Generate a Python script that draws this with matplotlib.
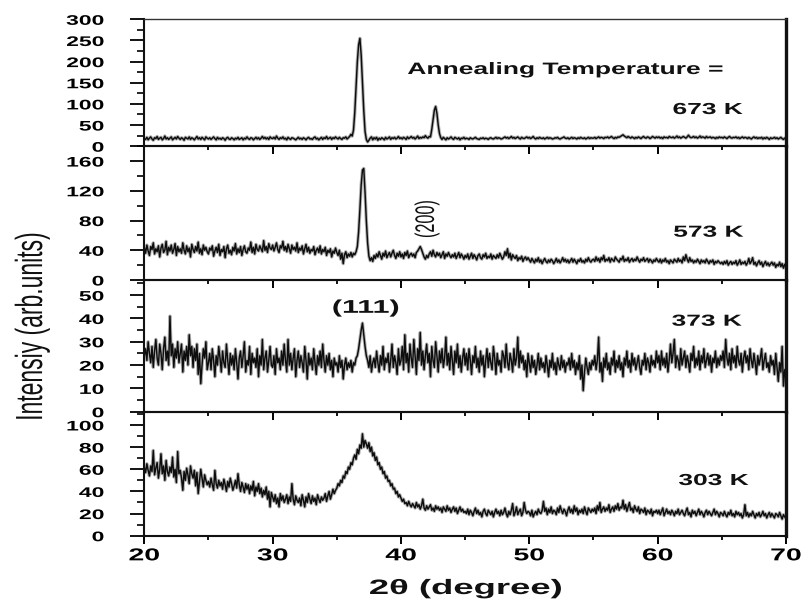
import numpy as np
import matplotlib
matplotlib.use("Agg")
import matplotlib.pyplot as plt
from matplotlib.patheffects import AbstractPathEffect
from matplotlib.transforms import Affine2D

# ---------------------------------------------------------------------------
# XRD patterns of films annealed at different temperatures
# 2-theta sampled from 20 to 70 degrees in 0.1 degree steps (501 points)
# ---------------------------------------------------------------------------
two_theta_start = 20.0
two_theta_stop = 70.0

intensity_673K = [
    18,16,21,15,19,22,17,14,20,18, 23,16,19,21,15,18,24,17,20,16, 19,22,15,18,21,17,23,19,16,20, 18,14,21,19,17,22,16,20,18,15, 19,23,17,20,16,21,18,15,22,19,
    17,20,16,19,22,18,15,21,17,19, 16,20,18,14,19,21,17,16,20,18, 15,19,17,21,16,18,20,15,19,17, 22,18,16,20,19,15,18,21,17,20, 16,19,23,18,21,17,20,16,22,19,
    18,21,17,24,19,16,20,18,22,17, 19,15,21,18,16,20,19,17,15,18, 21,17,19,16,20,18,15,19,21,17, 18,16,20,22,17,19,15,18,21,16, 20,18,23,17,19,21,16,20,18,22,
    19,17,21,18,16,20,19,22,17,20, 23,28,24,38,80,140,200,240,255,215, 150,85,35,16,10,14,19,22,15,20, 17,21,14,19,16,20,18,15,21,17, 19,22,16,20,18,21,17,19,23,18,
    20,17,21,19,16,22,18,20,23,19, 21,17,20,24,18,21,19,22,20,25, 21,19,23,22,40,62,85,94,78,50, 30,20,16,21,18,15,20,17,19,22, 18,16,21,19,17,20,15,19,18,21,
    17,19,18,16,20,18,17,19,21,18, 17,16,19,18,20,17,19,18,16,19, 20,18,17,19,21,18,20,19,17,18, 20,22,19,21,18,20,23,19,21,18, 20,22,19,17,21,19,18,20,22,19,
    21,18,20,23,19,17,20,18,21,19, 18,20,17,19,21,18,20,19,17,18, 20,19,21,18,17,19,20,22,19,18, 20,17,19,21,18,20,19,17,20,18, 21,19,18,20,17,19,21,18,20,19,
    19,21,18,20,22,19,21,20,18,21, 20,22,19,21,23,20,18,21,19,22, 21,23,25,27,24,22,20,23,21,19, 22,20,18,21,19,22,20,18,21,23, 20,19,22,21,18,20,23,21,19,22,
    20,22,19,21,18,22,20,21,19,23, 21,20,22,19,21,24,20,22,19,21, 23,21,19,22,26,22,20,21,23,20, 22,19,21,24,20,22,21,19,23,20, 21,22,19,21,20,18,21,19,22,20,
    21,19,22,20,18,21,23,20,19,21, 20,22,19,21,18,20,22,19,21,20, 18,21,19,17,20,22,19,21,18,20, 19,21,17,20,18,21,19,16,20,18, 19,21,18,20,17,19,21,18,16,19,
    18,
]

intensity_573K = [
    44,36,47,39,33,45,41,50,35,42, 38,46,31,43,48,37,40,52,34,44, 39,47,36,41,49,33,45,38,42,36, 50,40,35,46,38,43,31,48,41,37, 45,39,51,36,42,34,47,40,44,38,
    35,43,40,46,32,39,44,37,48,33, 41,38,45,30,42,47,36,40,34,44, 39,49,35,42,37,45,33,41,46,38, 36,43,40,51,37,44,35,48,41,39, 46,42,38,53,40,45,37,49,43,41,
    47,39,44,50,41,37,46,43,52,40, 45,38,48,42,36,47,41,44,39,50, 37,43,40,46,35,42,48,38,44,36, 41,39,45,34,40,43,37,46,35,41, 38,44,33,40,37,42,31,39,36,43,
    37,33,40,28,36,22,34,38,30,35, 32,37,31,36,34,38,45,65,95,128, 148,150,118,80,50,32,26,30,25,33, 29,35,31,38,33,28,36,32,39,30, 34,37,31,36,40,33,29,36,32,38,
    31,35,29,37,33,39,30,34,36,32, 35,30,37,39,42,45,41,36,31,28, 33,30,35,38,32,40,34,31,37,33, 36,30,34,38,29,35,32,37,33,30, 34,31,36,29,33,37,30,35,32,28,
    33,30,35,28,32,36,29,34,31,27, 33,35,30,28,34,31,36,29,32,30, 35,28,33,31,29,34,30,36,32,28, 31,38,33,42,30,36,27,34,31,29, 33,26,30,28,32,25,29,31,27,30,
    27,24,29,26,23,28,25,30,24,27, 22,26,29,25,23,27,24,28,26,22, 25,29,24,27,23,26,30,25,28,24, 27,23,26,29,24,28,25,22,27,25, 29,24,26,23,28,25,30,26,24,27,
    28,25,31,26,29,24,30,27,33,25, 28,26,30,24,29,27,25,31,28,26, 24,29,27,32,25,28,26,30,24,27, 29,25,28,26,31,27,24,28,26,30, 25,27,29,24,28,26,23,27,25,29,
    26,24,28,23,27,25,29,24,26,22, 27,25,23,28,26,24,29,25,27,23, 31,26,34,28,24,30,25,27,23,26, 24,28,25,22,27,24,26,23,28,25, 22,26,24,27,21,25,23,26,24,22,
    24,21,25,22,26,20,23,25,21,24, 22,26,20,23,27,21,24,22,25,20, 23,29,22,25,30,21,24,19,23,26, 21,24,18,22,25,20,23,19,22,24, 20,23,17,21,19,24,18,22,16,21,
    19,
]

intensity_373K = [
    24,27,22,30,25,21,28,19,26,31, 23,20,29,25,18,27,32,22,26,20, 41,24,29,19,27,23,30,21,25,29, 17,26,22,28,20,33,24,28,19,27, 22,29,16,25,12,20,27,23,30,18,
    21,25,18,27,22,15,24,20,28,23, 17,26,21,19,29,22,16,25,20,24, 18,27,21,14,23,26,19,24,30,17, 22,20,28,16,25,21,23,19,27,15, 24,20,31,18,23,26,17,22,28,20,
    19,24,16,27,21,23,18,26,20,29, 22,17,31,20,25,18,23,27,15,22, 26,19,24,21,17,28,22,14,25,20, 23,18,27,21,16,24,20,26,19,29, 22,17,24,20,25,18,22,15,23,20,
    21,17,24,19,22,14,20,23,18,21, 19,22,17,21,20,23,24,27,31,35, 38,33,28,24,22,19,24,17,21,23, 19,26,21,17,24,20,28,18,23,21, 25,17,22,29,19,24,21,16,27,20,
    22,28,18,33,21,25,17,29,23,19, 31,24,16,27,22,34,20,26,18,24, 29,21,25,15,28,22,19,30,24,17, 26,21,27,19,23,32,20,25,18,28, 22,16,26,21,29,19,24,17,23,27,
    20,25,18,27,22,16,24,21,28,19, 23,17,26,20,24,15,22,27,19,25, 21,18,28,23,16,25,20,22,17,26, 24,19,29,21,18,25,22,17,27,20, 23,32,19,26,21,24,18,22,15,25,
    21,17,24,19,22,16,20,25,18,23, 19,21,17,24,20,15,22,19,25,18, 21,16,23,20,18,24,19,22,17,21, 20,23,18,25,19,22,16,21,18,24, 14,20,9,17,23,19,16,21,18,22,
    20,24,18,22,32,17,21,13,23,19, 25,18,21,16,23,20,26,17,22,19, 24,18,21,15,23,20,26,19,22,17, 25,20,23,18,21,24,19,16,22,20, 25,18,23,21,17,24,20,22,19,26,
    21,24,18,26,20,23,19,25,17,22, 29,21,25,31,19,24,22,18,27,20, 23,26,19,24,21,17,25,22,28,19, 23,20,26,18,24,21,27,19,22,25, 20,24,17,23,21,26,19,23,20,24,
    22,26,19,31,23,20,25,18,27,21, 24,19,28,22,20,25,17,23,26,21, 24,18,27,22,19,25,21,16,24,20, 23,27,18,22,25,19,21,17,24,20, 22,16,25,19,13,21,17,28,11,18,
    14,
]

intensity_303K = [
    62,57,65,59,54,63,58,77,55,61, 66,52,60,74,56,63,50,68,58,54, 62,57,71,53,60,48,76,56,59,52, 41,58,50,61,55,47,63,56,52,59, 45,57,38,49,60,52,44,55,50,46,
    49,44,52,46,41,59,47,43,50,45, 48,42,51,46,40,49,44,52,47,41, 45,50,43,56,46,40,48,44,39,47, 42,46,38,45,41,49,36,44,40,47, 38,43,35,41,37,44,33,40,26,39,
    35,31,37,29,34,26,38,32,36,30, 33,37,29,35,31,47,33,28,36,32, 30,34,27,37,32,26,35,30,38,33, 29,36,31,34,28,37,33,30,35,32, 34,38,31,36,40,33,37,42,38,41,
    43,47,45,50,48,54,52,58,56,62, 60,66,64,70,73,69,78,74,82,79, 92,80,86,83,79,84,76,80,72,75, 68,71,64,66,60,62,56,58,52,54, 49,50,45,47,42,43,38,40,35,37,
    34,31,33,29,30,27,31,28,26,29, 27,25,30,26,28,24,27,33,25,23, 27,24,26,28,23,25,22,27,24,26, 23,25,21,26,24,22,27,23,25,21, 24,26,22,25,20,23,26,22,24,21,
    22,20,24,19,23,21,18,22,25,20, 23,19,21,17,22,24,20,18,23,21, 19,22,17,21,24,20,22,18,23,19, 21,25,20,17,22,19,23,29,18,21, 26,19,22,24,18,21,30,23,20,22,
    21,18,23,17,20,22,19,24,21,20, 23,31,22,25,19,24,21,26,20,23, 22,19,25,21,27,23,20,24,22,18, 23,26,21,24,20,27,22,25,19,23, 21,24,20,26,22,19,25,23,21,24,
    22,25,20,27,23,30,21,24,26,22, 25,23,28,21,24,26,22,27,24,29, 23,26,25,32,24,28,22,26,30,23, 25,21,27,24,22,26,20,24,23,21, 25,19,23,22,20,24,18,22,21,23,
    20,23,19,22,25,18,21,24,20,22, 19,23,21,18,22,20,24,19,21,23, 20,18,22,25,19,21,17,23,20,22, 18,21,24,19,22,20,17,21,23,19, 22,20,18,21,24,19,22,20,17,21,
    20,18,22,19,17,21,19,23,18,20, 17,22,19,21,18,20,16,19,28,18, 21,17,20,18,22,19,16,20,18,21, 17,19,22,18,20,16,19,21,17,20, 18,16,20,19,17,21,18,15,19,17,
    16,
]

series = [intensity_673K, intensity_573K, intensity_373K, intensity_303K]
temperature_labels = ["673 K", "573 K", "373 K", "303 K"]
y_upper = [300, 180, 56.5, 112]
y_major_step = [50, 40, 10, 20]
x_tick_values = [20, 30, 40, 50, 60, 70]


class HStretch(AbstractPathEffect):
    """Widen glyphs horizontally (in screen space) about an anchor point."""

    def __init__(self, sx, anchor="center"):
        super().__init__()
        self.sx = sx
        self.anchor = anchor

    def draw_path(self, renderer, gc, tpath, affine, rgbFace=None):
        ext = tpath.transformed(affine).get_extents()
        if self.anchor == "right":
            x0 = ext.x1
        elif self.anchor == "left":
            x0 = ext.x0
        else:
            x0 = 0.5 * (ext.x0 + ext.x1)
        aff = affine + Affine2D().translate(-x0, 0).scale(self.sx, 1.0).translate(x0, 0)
        renderer.draw_path(gc, tpath, aff, rgbFace)


W, H = 803, 603
fig = plt.figure(figsize=(W / 100, H / 100), dpi=100)
fig.patch.set_facecolor("white")

FONT = "Liberation Sans"
STRETCH = 1.65

left_px, right_px = 144.3, 786.0
edges_px = [19.3, 146.2, 280.0, 411.7, 535.7]

x_vals = np.linspace(two_theta_start, two_theta_stop, len(intensity_673K))

axes = []
for i, vals in enumerate(series):
    top, bot = edges_px[i], edges_px[i + 1]
    ax = fig.add_axes([left_px / W, 1 - bot / H, (right_px - left_px) / W, (bot - top) / H])
    ax.set_facecolor("none")
    y = np.asarray(vals, dtype=float)
    # soft grey halo under a dark trace
    ax.plot(x_vals, y, color="#7d7d7d", lw=2.4, alpha=0.6, solid_joinstyle="round")
    ax.plot(x_vals, y, color="#0d0d0d", lw=1.05, solid_joinstyle="round")
    ax.set_xlim(two_theta_start, two_theta_stop)
    ax.set_ylim(0, y_upper[i])

    step = y_major_step[i]
    ax.set_yticks(np.arange(0, y_upper[i] + 1e-6, step))
    ax.set_yticks(np.arange(step / 2, y_upper[i] + 1e-6, step), minor=True)
    ax.set_yticklabels([f"{v:g}" for v in np.arange(0, y_upper[i] + 1e-6, step)])
    ax.set_xticks(x_tick_values)
    ax.set_xticks([25, 35, 45, 55, 65], minor=True)

    ax.tick_params(axis="y", which="major", direction="out", length=10, width=1.3,
                   pad=19, labelsize=10)
    ax.tick_params(axis="y", which="minor", direction="out", length=5, width=1.2)
    ax.tick_params(axis="x", which="major", direction="out", length=5.8, width=1.4,
                   pad=3.3, labelsize=12.4)
    ax.tick_params(axis="x", which="minor", direction="out", length=3, width=1.3)
    if i < 3:
        ax.tick_params(axis="x", labelbottom=False)

    for sp in ax.spines.values():
        sp.set_linewidth(1.5)
        sp.set_color("#111111")
    ax.spines["right"].set_linewidth(2.4)
    if i == 0:
        ax.spines["top"].set_linewidth(1.0)
        ax.spines["top"].set_color("#333333")

    for t in ax.yaxis.get_major_ticks():
        t.label1.set_fontfamily(FONT)
        t.label1.set_fontweight("bold")
        t.label1.set_path_effects([HStretch(STRETCH, "right")])
    for t in ax.xaxis.get_major_ticks():
        t.label1.set_fontfamily(FONT)
        t.label1.set_fontweight("bold")
        t.label1.set_path_effects([HStretch(STRETCH, "center")])
    axes.append(ax)


def ftext(xp, yp, s, size, weight="bold", ha="center", va="baseline", rot=0, sx=STRETCH):
    return fig.text(xp / W, 1 - yp / H, s, fontsize=size, fontweight=weight,
                    fontfamily=FONT, ha=ha, va=va, rotation=rot, color="#111111",
                    path_effects=[HStretch(sx, "center")])


ftext(565, 74, "Annealing Temperature =", 11.9, sx=1.6)
label_pos = [(708, 114), (708.7, 236.7), (707, 325.7), (713.8, 485)]
for (px, py), lab in zip(label_pos, temperature_labels):
    ftext(px, py, lab, 11.5)

ftext(365.7, 308.3, "(111)", 13.3, va="center")
ftext(426.7, 219, "(200)", 11.7, weight="normal", va="center", rot=90)

ftext(466, 594, "2θ (degree)", 15, sx=1.75)
ftext(31.7, 326.7, "Intensiy (arb.units)", 16.5, weight="normal", va="center", rot=90)

fig.savefig("out.png", dpi=100, facecolor="white")
